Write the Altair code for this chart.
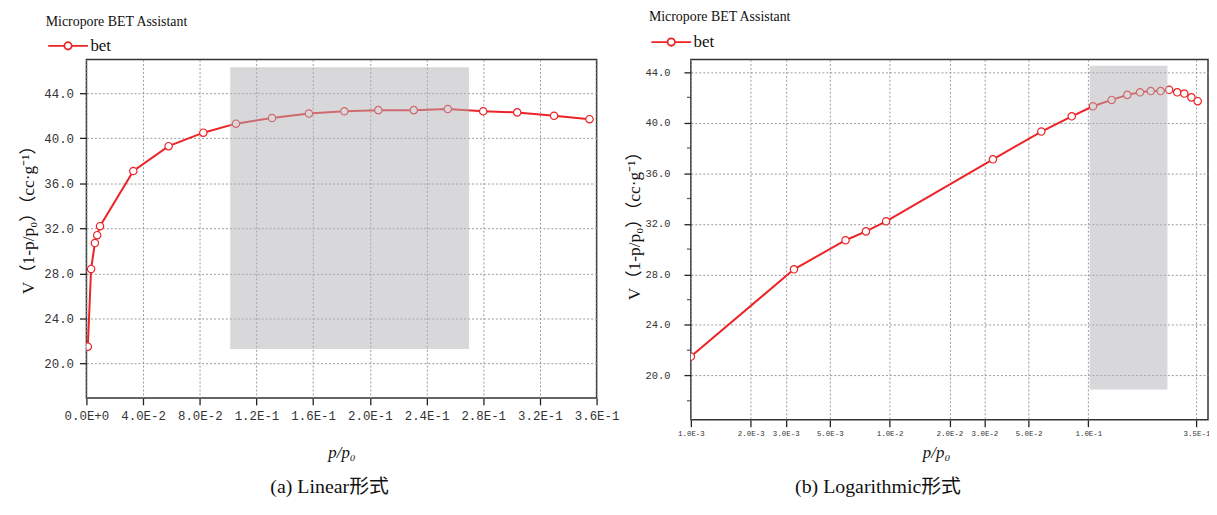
import altair as alt
import pandas as pd

# ---------------- data ----------------
p_rel = [0.0010, 0.0033, 0.0060, 0.0076, 0.0096, 0.0331, 0.0580, 0.0825, 0.1055,
         0.1310, 0.1570, 0.1820, 0.2060, 0.2310, 0.2550, 0.2800, 0.3040, 0.3300, 0.3550]
v_ads = [21.5, 28.4, 30.7, 31.4, 32.2, 37.1, 39.3, 40.5, 41.3,
         41.8, 42.2, 42.4, 42.5, 42.5, 42.6, 42.4, 42.3, 42.0, 41.7]
series_name = "bet"

lin_x_ticks = [0.0, 0.04, 0.08, 0.12, 0.16, 0.2, 0.24, 0.28, 0.32, 0.36]
log_x_ticks = [0.001, 0.002, 0.003, 0.005, 0.01, 0.02, 0.03, 0.05, 0.1, 0.35]
y_ticks = [20, 24, 28, 32, 36, 40, 44]
y_minor_ticks = [18, 22, 26, 30, 34, 38, 42]

lin_region_x = [0.1015, 0.270]
lin_region_y = [21.3, 46.3]
log_region_x = [0.1015, 0.250]
log_region_y = [18.9, 44.5]

captions = ["(a) Linear形式", "(b) Logarithmic形式"]
legend_title = "Micropore BET Assistant"
x_title = "p/p₀"
y_title = "V（1-p/p₀）（cc·g⁻¹）"

RED = "#ec2327"
SERIF = "Liberation Serif, Noto Sans CJK SC, serif"
MONO = "Liberation Mono, DejaVu Sans Mono, monospace"

SCI = ("datum.value == 0 ? '0.0E+0' : "
       "format(datum.value / pow(10, floor(log(datum.value)/LN10 + 1e-9)), '.1f') + 'E' + "
       "floor(log(datum.value)/LN10 + 1e-9)")

df = pd.DataFrame({"p": p_rel, "v": v_ads, "series": [series_name] * len(p_rel)})
df_minor = pd.DataFrame({"v": y_minor_ticks})

LEGEND_PATH = ("M-4,0H-0.74M0.74,0H4M-0.74,0A0.74,0.74,0,1,1,0.74,0"
               "A0.74,0.74,0,1,1,-0.74,0Z")


def panel(xscale, xticks, x_lab_size, x_lab_pad, x_title_pos,
          ydomain, y_lab_size, y_lab_pad, y_title_pos,
          region_x, region_y, width, height, caption, cap_dx, cap_offset,
          leg_x, leg_y, leg_title_pad, minor):
    yscale = alt.Scale(domain=ydomain, nice=False, zero=False)
    xaxis = alt.Axis(values=xticks, labelExpr=SCI, title=x_title,
                     titleFont=SERIF, titleFontStyle="italic", titleFontSize=17,
                     titleFontWeight="normal", titleColor="#111",
                     titleX=x_title_pos[0], titleY=x_title_pos[1], titleBaseline="middle",
                     labelFont=MONO, labelFontSize=x_lab_size, labelColor="#333",
                     labelPadding=x_lab_pad, labelFlush=False, labelOverlap=False,
                     tickSize=7, tickColor="#222", tickWidth=1.3, domain=False,
                     grid=True, gridColor="#999", gridDash=[2, 2], gridWidth=1)
    yaxis = alt.Axis(values=y_ticks, format=".1f", title=y_title,
                     titleFont=SERIF, titleFontSize=17.5, titleFontWeight="normal",
                     titleColor="#111", titleX=y_title_pos[0], titleY=y_title_pos[1],
                     titleBaseline="middle", titleAlign="center",
                     labelFont=MONO, labelFontSize=y_lab_size, labelColor="#333",
                     labelPadding=y_lab_pad, labelFlush=False, labelOverlap=False,
                     tickSize=7, tickColor="#222", tickWidth=1.3, domain=False,
                     grid=True, gridColor="#999", gridDash=[2, 2], gridWidth=1)

    legend = alt.Legend(title=legend_title, orient="none", legendX=leg_x, legendY=leg_y,
                        titleFont=SERIF, titleFontSize=14, titleFontWeight="normal",
                        titleColor="#111", titlePadding=leg_title_pad, titleLimit=400,
                        labelFont=SERIF, labelFontSize=17, labelColor="#111",
                        symbolType=LEGEND_PATH, symbolSize=100, symbolStrokeWidth=1.8,
                        symbolFillColor="white", symbolOffset=14, labelOffset=14,
                        padding=0)

    X = lambda f: alt.X(f, scale=xscale, axis=xaxis)
    Y = lambda f: alt.Y(f, scale=yscale, axis=yaxis)

    line = alt.Chart(df).mark_line(strokeWidth=2, clip=True).encode(
        x=X("p:Q"), y=Y("v:Q"),
        color=alt.Color("series:N", scale=alt.Scale(domain=[series_name], range=[RED]),
                        legend=legend),
    )
    pts = alt.Chart(df).mark_point(shape="circle", filled=True, fill="white", stroke=RED,
                                   strokeWidth=1.2, size=55, opacity=1, clip=True).encode(
        x=X("p:Q"), y=Y("v:Q"),
    )
    reg_df = pd.DataFrame({"p": [region_x[0]], "p2": [region_x[1]],
                           "v": [region_y[0]], "v2": [region_y[1]]})
    rect = alt.Chart(reg_df).mark_rect(color="#b2b2b8", opacity=0.5).encode(
        x=X("p:Q"), x2="p2:Q",
        y=Y("v:Q"), y2="v2:Q",
    )
    layers = [line, pts, rect]
    if minor:
        mt = alt.Chart(df_minor).mark_tick(color="#222", thickness=1.3, size=4,
                                           clip=False).encode(
            y=Y("v:Q"),
            x=alt.value(-2),
        )
        layers.append(mt)
    return alt.layer(*layers).properties(
        width=width, height=height,
        title=alt.TitleParams(text=caption, orient="bottom", anchor="middle", frame="group",
                              dx=cap_dx, offset=cap_offset, font=SERIF, fontSize=20,
                              fontWeight="normal", color="#111"),
    )


left = panel(alt.Scale(domain=[0, 0.36], nice=False, zero=False), lin_x_ticks, 12.5, 5, (257, 55),
             [16.95, 47.0], 12.5, 6, (-58, 157),
             lin_region_x, lin_region_y, 514, 341, captions[0], -12, 17,
             -41, -45, 8.8, False)
right = panel(alt.Scale(type="log", domain=[0.001, 0.4], nice=False), log_x_ticks, 7.5, 3, (247, 33),
              [16.5, 45.0], 10.5, 14, (-57, 163),
              log_region_x, log_region_y, 521, 363, captions[1], -72, 17,
              -42.3, -50, 10, True)

chart = alt.hconcat(left, right, spacing=95, bounds="flush").resolve_scale(
    color="independent"
).resolve_legend(color="independent").properties(
    padding={"left": 11, "top": -1, "right": -2, "bottom": 0},
    background="white",
).configure_view(stroke="#333", strokeWidth=1.5)

chart.save("out.html", embed_options={"renderer": "svg", "actions": False})
